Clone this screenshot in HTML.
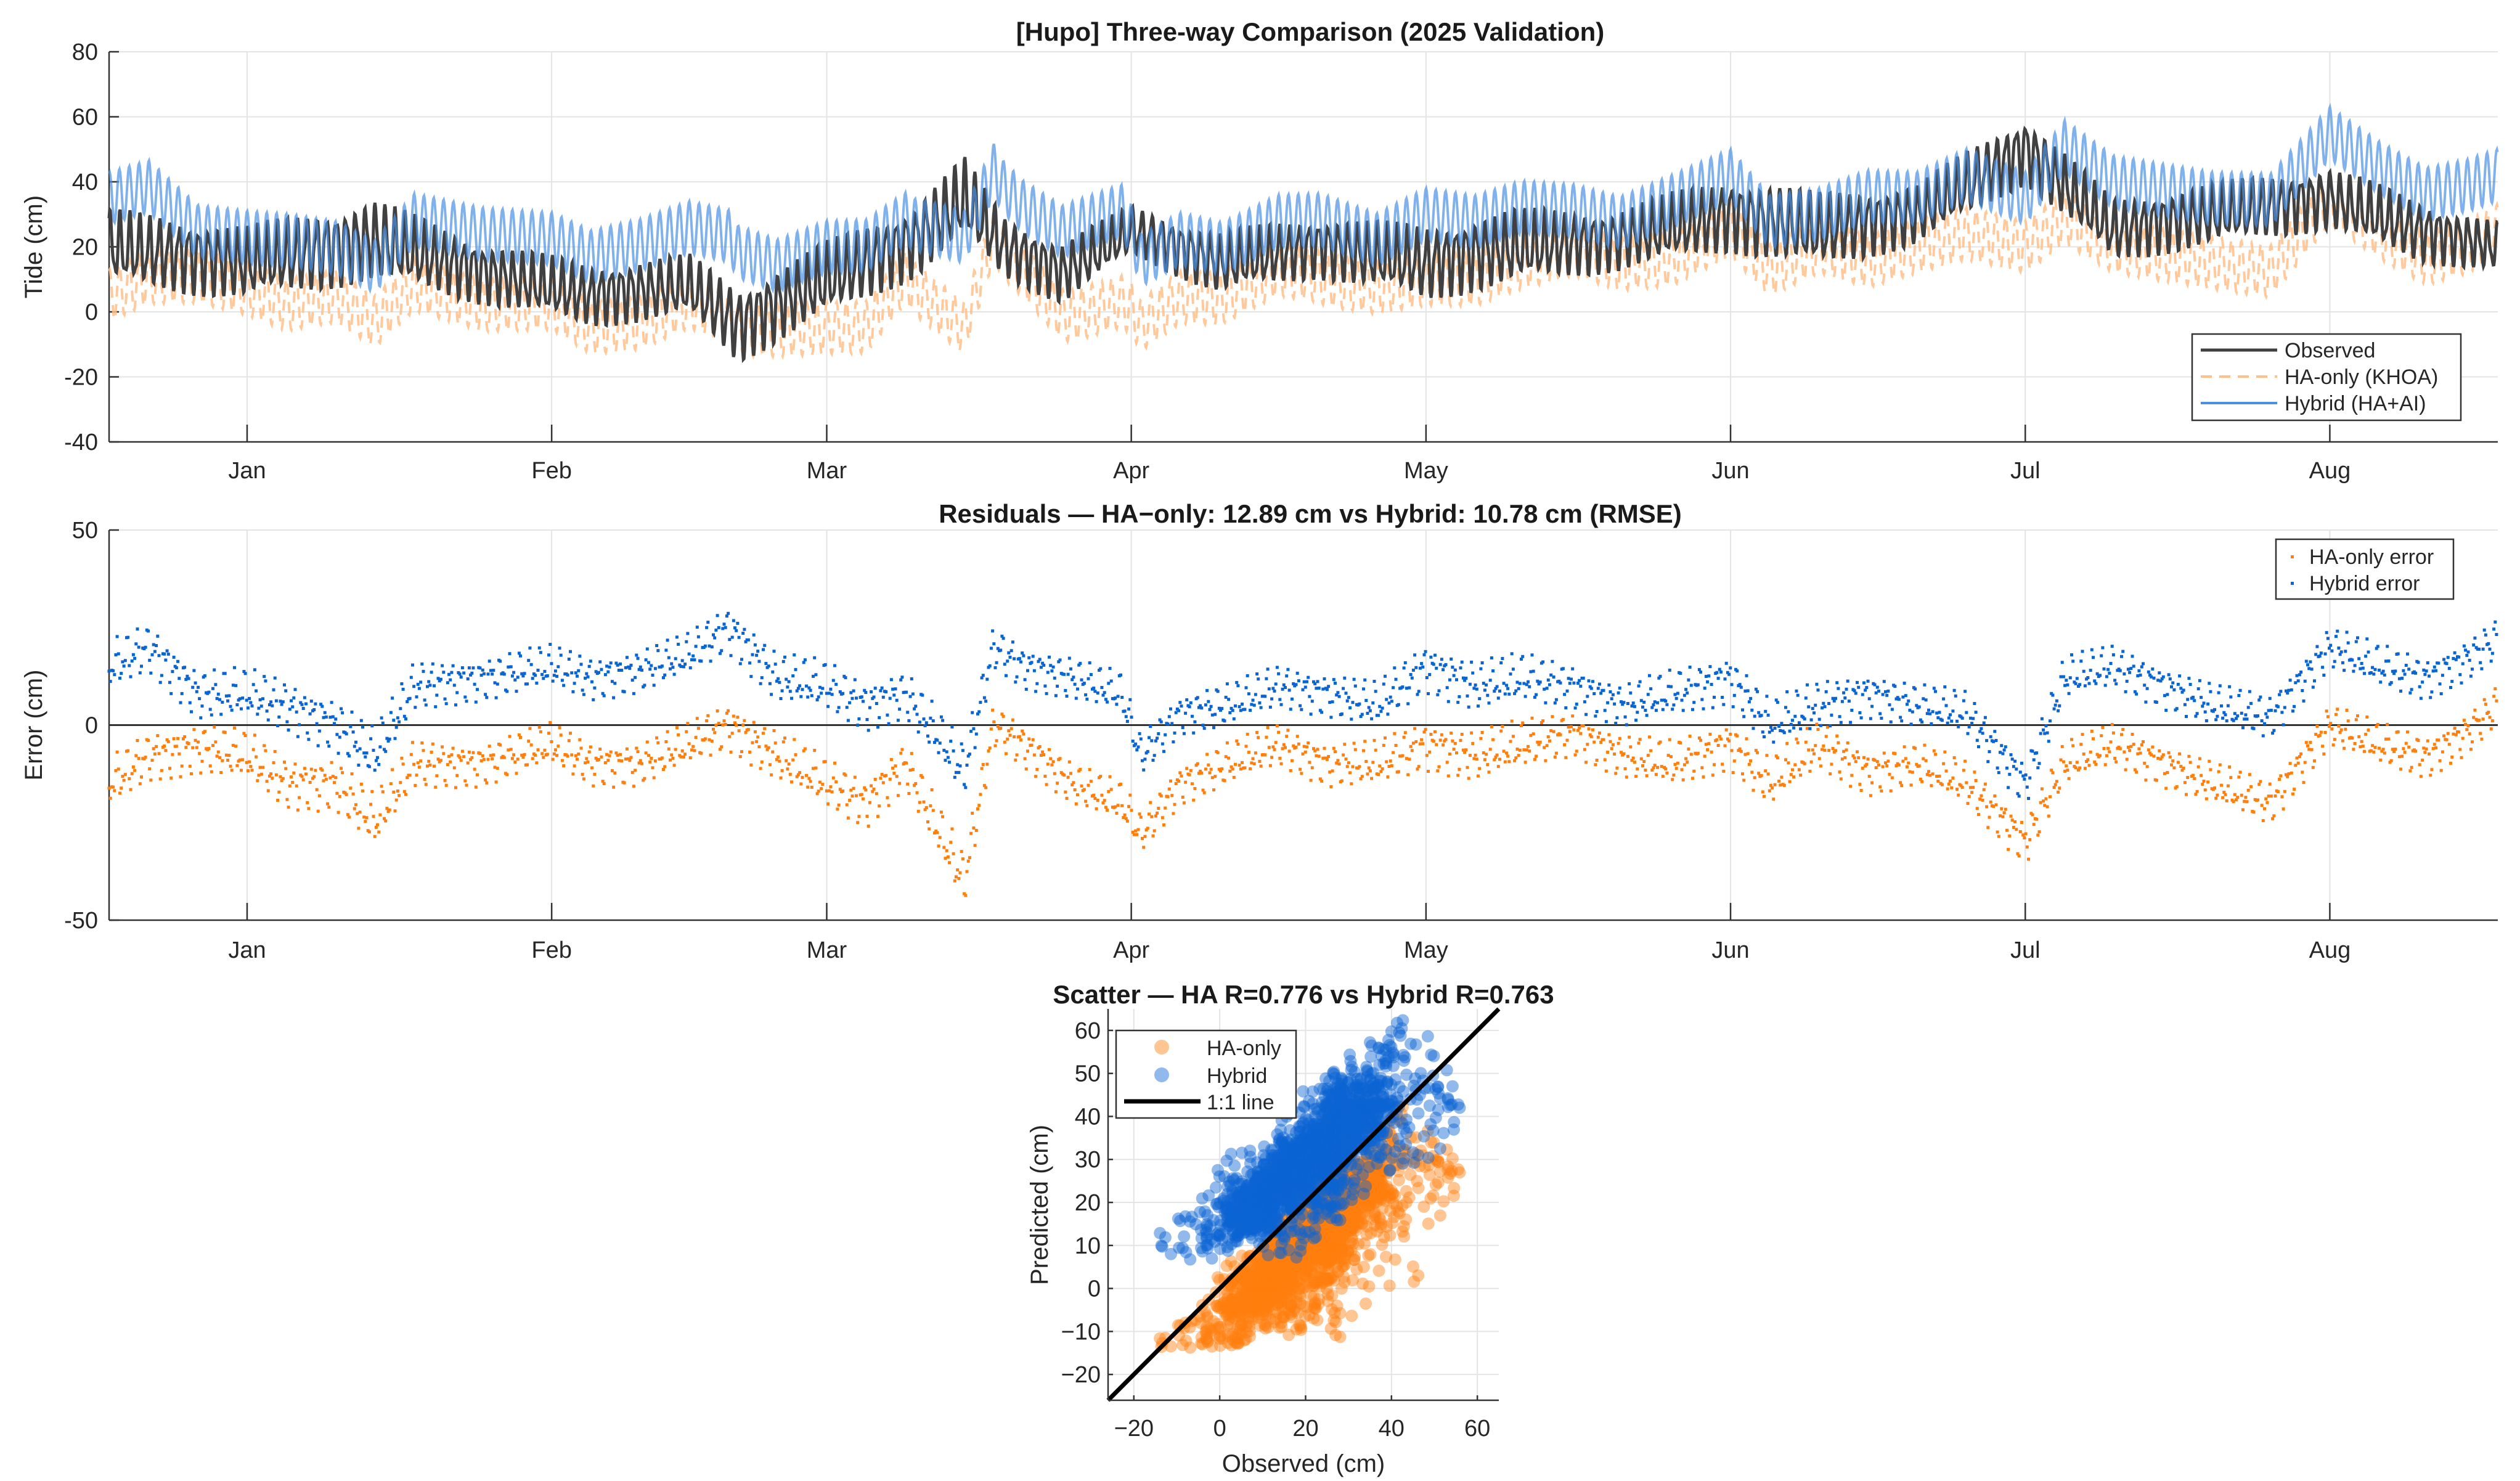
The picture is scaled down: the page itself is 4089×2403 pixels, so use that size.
<!DOCTYPE html>
<html><head><meta charset="utf-8"><style>
html,body{margin:0;padding:0;background:#fff}
svg{display:block;font-family:"Liberation Sans",Arial,sans-serif}
</style></head><body>
<svg id="fig" width="4089" height="2403" viewBox="0 0 4089 2403" xmlns="http://www.w3.org/2000/svg">
<rect width="4089" height="2403" fill="#fff"/>
<g id="p1"></g>
<g id="p2"></g>
<g id="p3"></g>
</svg>
<script>
// ---- data (days relative to Jan 1) ----
const monthNames = ["Jan","Feb","Mar","Apr","May","Jun","Jul","Aug"];
const monthDays = [0,31,59,90,120,151,181,212];
const tideTicks = [-40,-20,0,20,40,60,80];
const errTicks = [-50,0,50];
const scatTicks = [-20,-10,0,10,20,30,40,50,60];
const scatXTicks = [-20,0,20,40,60];
const obsDays = [-14,0,13,24,35,45,50,59,68,73,77,83,90,99,109,120,129,139,151,160,170,181,190,200,212,221,229];
const obsMid  = [20,15,22,12,5,8,-4,10,22,35,20,12,25,15,20,15,20,22,30,25,30,50,25,30,35,25,20];
const obsAmp  = [12,12,13,10,10,10,12,12,12,13,10,10,8,10,10,12,12,10,12,12,10,11,10,10,10,10,8];
const errDays = [-14,-10,-5,0,4,9,13,17,24,31,35,40,45,49,54,59,63,67,71,73,76,79,84,89,91,95,100,105,110,115,120,125,130,135,140,145,151,155,160,165,170,175,181,185,190,195,200,206,212,217,222,226,229];
const errHA   = [-15,-8,-6,-8,-15,-15,-25,-10,-10,-5,-10,-10,-5,0,-8,-15,-20,-10,-30,-40,0,-5,-15,-20,-28,-15,-10,-5,-10,-10,-5,-8,-5,-2,-8,-10,-5,-15,-5,-12,-10,-15,-30,-10,-5,-10,-15,-20,0,-5,-8,-2,5];
const errHy   = [15,20,8,8,5,0,-8,10,12,15,12,14,18,25,12,10,5,8,-5,-12,20,15,12,8,-8,3,5,10,8,5,15,10,12,10,5,8,12,0,5,8,5,3,-15,12,15,10,5,2,20,15,12,17,22];
const haAmp = 8, hyAmp = 8;

const NS = "http://www.w3.org/2000/svg";
function el(tag, attrs, parent, text){const e=document.createElementNS(NS,tag);for(const k in attrs)e.setAttribute(k,attrs[k]);if(text!==undefined)e.textContent=text;parent.appendChild(e);return e;}
function interp(xs, ys, t){if(t<=xs[0])return ys[0];for(let i=1;i<xs.length;i++){if(t<=xs[i]){const f=(t-xs[i-1])/(xs[i]-xs[i-1]);return ys[i-1]+f*(ys[i]-ys[i-1]);}}return ys[ys.length-1];}

const D0=-14.05, D1=229.1;
function obsAt(t){const m=interp(obsDays,obsMid,t),a=interp(obsDays,obsAmp,t);
  return m+a*(0.75*Math.cos(2*Math.PI*(t-0.07))+0.25*Math.cos(2*Math.PI*1.93*t));}
function predAt(t,err,amp){return interp(obsDays,obsMid,t)+interp(errDays,err,t)+amp*Math.cos(2*Math.PI*t);}
function series(step){const T=[],O=[],A=[],H=[];
  for(let t=D0;t<=D1;t+=step){T.push(t);O.push(obsAt(t));A.push(predAt(t,errHA,haAmp));H.push(predAt(t,errHy,hyAmp));}
  return {T,O,A,H};}
const L=series(0.0625);
const P=series(0.1373);

const X0=177,X1=4053;
const xd=d=>X0+(d-D0)/(D1-D0)*(X1-X0);
function timeAxes(g, top, bot, ymin, ymax, ticks, labelY, ylab, title, titleY){
  const y=v=>bot-(v-ymin)/(ymax-ymin)*(bot-top);
  ticks.forEach(v=>{
    el('line',{x1:X0,x2:X1,y1:y(v),y2:y(v),stroke:'#e4e4e4','stroke-width':2},g);
    el('line',{x1:X0,x2:X0+16,y1:y(v),y2:y(v),stroke:'#333','stroke-width':2.5},g);
    const tl=el('text',{x:X0-18,y:y(v)+13,'text-anchor':'end','font-size':38,fill:'#262626'},g,String(v));
    
  });
  monthDays.forEach((d,i)=>{
    const x=xd(d);
    el('line',{x1:x,x2:x,y1:top,y2:bot,stroke:'#e4e4e4','stroke-width':2},g);
    el('line',{x1:x,x2:x,y1:bot,y2:bot-28,stroke:'#333','stroke-width':2.5},g);
    const tl=el('text',{x:x,y:labelY,'text-anchor':'middle','font-size':38,fill:'#262626'},g,monthNames[i]);
    
  });
  el('line',{x1:X0,x2:X0,y1:top,y2:bot,stroke:'#333','stroke-width':2.5},g);
  el('line',{x1:X0,x2:X1,y1:bot,y2:bot,stroke:'#333','stroke-width':2.5},g);
  const yl=el('text',{x:0,y:0,transform:`translate(68,${(top+bot)/2}) rotate(-90)`,'text-anchor':'middle','font-size':40,fill:'#262626'},g,ylab);
  
  const tt=el('text',{x:2126,y:titleY,'text-anchor':'middle','font-size':42,'font-weight':'bold',fill:'#1a1a1a'},g,title);
  
  return y;
}

// ---- panel 1 ----
const g1=document.getElementById('p1');
const y1=timeAxes(g1,84,717,-40,80,tideTicks,776,'Tide (cm)','[Hupo] Three-way Comparison (2025 Validation)',66);
function pathOf(arr,yf){let s='';arr.forEach((v,i)=>{s+=(i?'L':'M')+xd(L.T[i]).toFixed(1)+','+yf(v).toFixed(1);});return s;}
const lHA=el('path',{d:pathOf(L.A,y1),fill:'none',stroke:'#ffc08a','stroke-width':4,'stroke-dasharray':'18 12','opacity':0.85},g1);

const lOB=el('path',{d:pathOf(L.O,y1),fill:'none',stroke:'#404040','stroke-width':5},g1);

const lHY=el('path',{d:pathOf(L.H,y1),fill:'none',stroke:'#4a90e2','stroke-width':4,'opacity':0.7},g1);

const lg1=el('g',{},g1);

el('rect',{x:3557,y:542,width:436,height:140,fill:'#fff',stroke:'#333','stroke-width':2.5},lg1);
[['Observed','#404040','',5],['HA-only (KHOA)','#ffc08a','18 12',4],['Hybrid (HA+AI)','#4a90e2','',4]].forEach((e,i)=>{
  const yy=568+i*43;
  el('line',{x1:3571,x2:3695,y1:yy,y2:yy,stroke:e[1],'stroke-width':e[3],'stroke-dasharray':e[2]},lg1);
  const t=el('text',{x:3707,y:yy+12,'font-size':34,fill:'#262626'},lg1,e[0]);
  
});

// ---- panel 2 ----
const g2=document.getElementById('p2');
const y2=timeAxes(g2,860,1493,-50,50,errTicks,1554,'Error (cm)','Residuals \u2014 HA\u2212only: 12.89 cm vs Hybrid: 10.78 cm (RMSE)',848);
el('line',{x1:X0,x2:X1,y1:y2(0),y2:y2(0),stroke:'#333','stroke-width':3},g2);
const dHA=el('g',{fill:'#ff7f0e'},g2);

const dHY=el('g',{fill:'#0a64d2'},g2);

let sHA='',sHY='';
P.T.forEach((t,i)=>{
  const x=xd(t);
  sHA+=`M${(x-2.5).toFixed(1)},${(y2(P.A[i]-P.O[i])-2.5).toFixed(1)}h5v5h-5z`;
  sHY+=`M${(x-2.5).toFixed(1)},${(y2(P.H[i]-P.O[i])-2.5).toFixed(1)}h5v5h-5z`;
});
el('path',{d:sHA},dHA);el('path',{d:sHY},dHY);
const lg2=el('g',{},g2);

el('rect',{x:3693,y:875,width:288,height:97,fill:'#fff',stroke:'#333','stroke-width':2.5},lg2);
[['HA-only error','#ff7f0e'],['Hybrid error','#0a64d2']].forEach((e,i)=>{
  const yy=903+i*43;
  el('rect',{x:3717,y:yy-2,width:5,height:5,fill:e[1]},lg2);
  const t=el('text',{x:3747,y:yy+12,'font-size':34,fill:'#262626'},lg2,e[0]);
  
});

// ---- scatter ----
const g3=document.getElementById('p3');
const SX0=1798,SX1=2432,SY0=1637,SY1=2272,LMIN=-26,LMAX=65;
const sx=v=>SX0+(v-LMIN)/(LMAX-LMIN)*(SX1-SX0);
const sy=v=>SY1-(v-LMIN)/(LMAX-LMIN)*(SY1-SY0);
scatTicks.forEach(v=>{
  el('line',{x1:SX0,x2:SX1,y1:sy(v),y2:sy(v),stroke:'#e4e4e4','stroke-width':2},g3);
  el('line',{x1:SX0,x2:SX0+8,y1:sy(v),y2:sy(v),stroke:'#333','stroke-width':2.5},g3);
  const t=el('text',{x:SX0-12,y:sy(v)+13,'text-anchor':'end','font-size':38,fill:'#262626'},g3,v<0?'\u2212'+(-v):String(v));
  
});
scatXTicks.forEach(v=>{
  el('line',{x1:sx(v),x2:sx(v),y1:SY0,y2:SY1,stroke:'#e4e4e4','stroke-width':2},g3);
  el('line',{x1:sx(v),x2:sx(v),y1:SY1,y2:SY1-8,stroke:'#333','stroke-width':2.5},g3);
  const t=el('text',{x:sx(v),y:2330,'text-anchor':'middle','font-size':38,fill:'#262626'},g3,v<0?'\u2212'+(-v):String(v));
  
});
const sHAg=el('g',{fill:'#ff7f0e','fill-opacity':0.45},g3);

const sHYg=el('g',{fill:'#0a64d2','fill-opacity':0.45},g3);

P.T.forEach((t,i)=>{el('circle',{cx:sx(P.O[i]).toFixed(1),cy:sy(P.A[i]).toFixed(1),r:10},sHAg);});
P.T.forEach((t,i)=>{el('circle',{cx:sx(P.O[i]).toFixed(1),cy:sy(P.H[i]).toFixed(1),r:10},sHYg);});
const one=el('line',{x1:sx(LMIN),y1:sy(LMIN),x2:sx(LMAX),y2:sy(LMAX),stroke:'#000','stroke-width':7},g3);

el('line',{x1:SX0,x2:SX0,y1:SY0,y2:SY1,stroke:'#333','stroke-width':2.5},g3);
el('line',{x1:SX0,x2:SX1,y1:SY1,y2:SY1,stroke:'#333','stroke-width':2.5},g3);
const st=el('text',{x:2115,y:1628,'text-anchor':'middle','font-size':42,'font-weight':'bold',fill:'#1a1a1a'},g3,'Scatter \u2014 HA R=0.776 vs Hybrid R=0.763');

const syl=el('text',{x:0,y:0,transform:'translate(1700,1955) rotate(-90)','text-anchor':'middle','font-size':40,fill:'#262626'},g3,'Predicted (cm)');

const sxl=el('text',{x:2115,y:2388,'text-anchor':'middle','font-size':40,fill:'#262626'},g3,'Observed (cm)');

const lg3=el('g',{},g3);

el('rect',{x:1811,y:1672,width:292,height:142,fill:'#fff',stroke:'#333','stroke-width':2.5},lg3);
[['HA-only','#ff7f0e'],['Hybrid','#0a64d2']].forEach((e,i)=>{
  const yy=1699+i*45;
  el('circle',{cx:1885,cy:yy,r:12,fill:e[1],'fill-opacity':0.45},lg3);
  const t=el('text',{x:1958,y:yy+13,'font-size':34,fill:'#262626'},lg3,e[0]);
  
});
el('line',{x1:1824,x2:1948,y1:1787,y2:1787,stroke:'#000','stroke-width':7},lg3);
const t3=el('text',{x:1958,y:1800,'font-size':34,fill:'#262626'},lg3,'1:1 line');

</script>
</body></html>
